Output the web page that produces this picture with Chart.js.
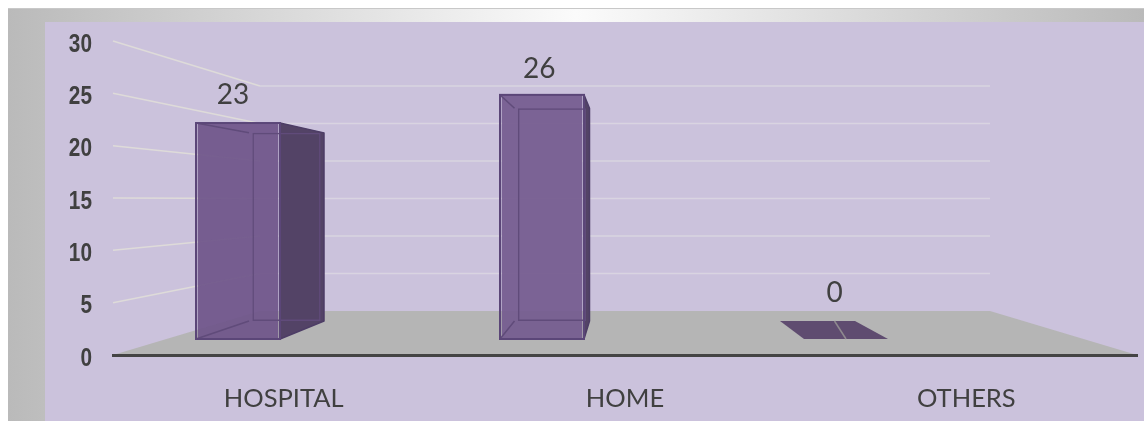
<!DOCTYPE html>
<html>
<head>
<meta charset="utf-8">
<title>Place of delivery</title>
<script src="https://cdn.jsdelivr.net/npm/chart.js@4/dist/chart.umd.min.js"></script>
<style>
  html, body { margin: 0; padding: 0; background: #fff; overflow: hidden; }
  #frame {
    position: absolute; left: 8px; top: 8px; width: 1136px; height: 413px;
    border-top: 1px solid #c8c8c8; box-sizing: border-box;
    background: linear-gradient(90deg, #bababa 0%, #fbfbfb 50%, #bababa 100%);
  }
  #panel {
    position: absolute; left: 45px; top: 22px; width: 1099px; height: 399px;
    background: #cbc2dc;
  }
  canvas { position: absolute; left: 0; top: 0; }
</style>
</head>
<body>
<div id="frame"></div>
<div id="panel"></div>
<canvas id="chart" width="1144" height="421"></canvas>
<script>
const categories = ['HOSPITAL', 'HOME', 'OTHERS'];
const values = [23, 26, 0];
const yTicks = [0, 5, 10, 15, 20, 25, 30];

// front of the floor, where the real axes sit
const AREA = { left: 113, right: 1137, top: 41, bottom: 355 };
const WALL = { left: 260, right: 990 };
const FRONT_W = 84;
const BACK_W = 75;
const FRONT_FILL = ['rgba(111, 85, 138, 0.93)', 'rgba(116, 91, 143, 0.93)', 'rgba(111, 85, 138, 0.93)'];
const LABEL_NUDGE = [0, 5.5, 0];

// the fake 3D is just the same values on extra hidden scales, one per depth
function yPlane(floor, unit) {
    return { display: false, bounds: 'data', min: (floor - AREA.bottom) / unit, max: (floor - AREA.top) / unit };
}
function xPlane(first, step) {
    return { type: 'linear', display: false, offset: false, bounds: 'data', min: (AREA.left - first) / step, max: (AREA.right - first) / step };
}

const barPoints = values.map((v, i) => ({ x: i, y: v }));

const scene3d = {
    id: 'scene3d',
    beforeDraw(chart) {
        const { ctx, scales } = chart;
        const floorBack = scales.yWall.getPixelForValue(0);
        const floorFront = scales.y.getPixelForValue(0);

        ctx.save();
        ctx.fillStyle = '#b5b5b5';
        ctx.beginPath();
        ctx.moveTo(AREA.left, floorFront);
        ctx.lineTo(WALL.left, floorBack);
        ctx.lineTo(WALL.right, floorBack);
        ctx.lineTo(AREA.right, floorFront);
        ctx.closePath();
        ctx.fill();

        yTicks.forEach((t) => {
            if (t === 0) return;
            const yf = scales.y.getPixelForValue(t);
            const yb = scales.yWall.getPixelForValue(t);
            ctx.lineWidth = 1.5;
            ctx.strokeStyle = '#dedbd9';
            ctx.beginPath();
            ctx.moveTo(AREA.left, yf);
            ctx.lineTo(WALL.left, yb);
            ctx.stroke();
            ctx.strokeStyle = '#d9d4e1';
            ctx.beginPath();
            ctx.moveTo(WALL.left, yb);
            ctx.lineTo(WALL.right, yb);
            ctx.stroke();
        });

        // y labels: no narrow font here, so squeeze the bold one sideways
        ctx.fillStyle = '#404040';
        ctx.font = 'bold 26px "Liberation Sans"';
        ctx.textAlign = 'right';
        ctx.textBaseline = 'middle';
        yTicks.forEach((t) => {
            ctx.save();
            ctx.translate(92, scales.y.getPixelForValue(t) + 3.5);
            ctx.scale(0.8, 1);
            ctx.fillText(String(t), 0, 0);
            ctx.restore();
        });
        ctx.restore();
    },
    beforeDatasetsDraw(chart) {
        const { ctx, scales } = chart;
        ctx.save();
        ctx.lineJoin = 'round';
        values.forEach((v, i) => {
            const fl = scales.xFront.getPixelForValue(i) - FRONT_W / 2;
            const fr = fl + FRONT_W;
            const bl = scales.xBack.getPixelForValue(i) - BACK_W / 2;
            const br = bl + BACK_W;
            const fBase = scales.yFront.getPixelForValue(0);
            const bBase = scales.yBack.getPixelForValue(0);
            const fTop = scales.yFront.getPixelForValue(v);
            const bTop = scales.yBack.getPixelForValue(v);

            // a flat bar is nothing but its bottom face
            if (v === 0) {
                ctx.fillStyle = '#5f4c70';
                ctx.beginPath();
                ctx.moveTo(fl, fBase);
                ctx.lineTo(fr, fBase);
                ctx.lineTo(br, bBase);
                ctx.lineTo(bl, bBase);
                ctx.closePath();
                ctx.fill();
                return;
            }

            // right side
            ctx.fillStyle = '#534366';
            ctx.strokeStyle = '#4d3d66';
            ctx.lineWidth = 1.5;
            ctx.beginPath();
            ctx.moveTo(fr, fTop);
            ctx.lineTo(br, bTop);
            ctx.lineTo(br, bBase);
            ctx.lineTo(fr, fBase);
            ctx.closePath();
            ctx.fill();
            ctx.stroke();
        });
        ctx.restore();
    },
    afterDatasetsDraw(chart) {
        const { ctx, scales } = chart;
        ctx.save();
        values.forEach((v, i) => {
            const fl = scales.xFront.getPixelForValue(i) - FRONT_W / 2;
            const bl = scales.xBack.getPixelForValue(i) - BACK_W / 2;
            const fBase = scales.yFront.getPixelForValue(0);
            const bBase = scales.yBack.getPixelForValue(0);
            const fTop = scales.yFront.getPixelForValue(v);
            const bTop = scales.yBack.getPixelForValue(v);

            if (v > 0) {
                // corner edges between the front and the back rectangle
                ctx.strokeStyle = '#604b7a';
                ctx.lineWidth = 1.5;
                ctx.beginPath();
                ctx.moveTo(fl, fTop);
                ctx.lineTo(bl, bTop);
                ctx.moveTo(fl, fBase);
                ctx.lineTo(bl, bBase);
                ctx.stroke();

                ctx.strokeStyle = '#5b4678';
                ctx.lineWidth = 2;
                ctx.strokeRect(fl, fTop, FRONT_W, fBase - fTop);
            } else {
                // a flat bar only shows this grey seam
                ctx.strokeStyle = '#8f8a8f';
                ctx.lineWidth = 1.5;
                ctx.beginPath();
                ctx.moveTo(scales.xLabel.getPixelForValue(i), bBase);
                ctx.lineTo(scales.xFront.getPixelForValue(i), fBase);
                ctx.stroke();
            }

            // value labels
            ctx.fillStyle = '#404040';
            ctx.font = '28px Lato';
            ctx.textAlign = 'center';
            ctx.textBaseline = 'middle';
            ctx.fillText(String(v), scales.xLabel.getPixelForValue(i) + LABEL_NUDGE[i], scales.yLabel.getPixelForValue(v));
        });
        ctx.restore();
    }
};

new Chart(document.getElementById('chart'), {
    type: 'bar',
    data: {
        labels: categories,
        datasets: [
            {
                label: 'front',
                data: barPoints,
                xAxisID: 'xFront',
                yAxisID: 'yFront',
                grouped: false,
                maxBarThickness: FRONT_W,
                backgroundColor: FRONT_FILL,
                borderWidth: 0,
                order: 2
            },
            {
                label: 'back',
                data: barPoints,
                xAxisID: 'xBack',
                yAxisID: 'yBack',
                grouped: false,
                maxBarThickness: BACK_W,
                backgroundColor: 'rgba(0, 0, 0, 0)',
                borderColor: '#604b7a',
                borderWidth: 1.5,
                borderSkipped: false,
                order: 1
            }
        ]
    },
    plugins: [scene3d],
    options: {
        responsive: false,
        animation: false,
        layout: { padding: { top: AREA.top, right: 1144 - AREA.right, left: 0, bottom: 0 } },
        plugins: { legend: { display: false }, tooltip: { enabled: false } },
        scales: {
            x: {
                type: 'category',
                offset: true,
                grid: { display: false, drawTicks: false },
                border: { color: '#444444', width: 3 },
                afterFit(scale) { scale.height = 421 - AREA.bottom; },
                ticks: {
                    color: '#404040',
                    font: { family: 'Lato', size: 25.5 },
                    padding: 28,
                    maxRotation: 0,
                    autoSkip: false
                }
            },
            y: {
                min: 0,
                max: 30,
                afterFit(scale) { scale.width = AREA.left; },
                grid: { display: false, drawTicks: false },
                border: { display: false },
                ticks: { display: false, stepSize: 5 }
            },
            xFront: xPlane(238, 304),
            yFront: yPlane(339, 9.39),
            xBack: xPlane(286.5, 265.5),
            yBack: yPlane(321, 8.18),
            xLabel: xPlane(233, 300.75),
            yLabel: yPlane(293, 8.62),
            yWall: yPlane(311, 7.5)
        }
    }
});
</script>
</body>
</html>
